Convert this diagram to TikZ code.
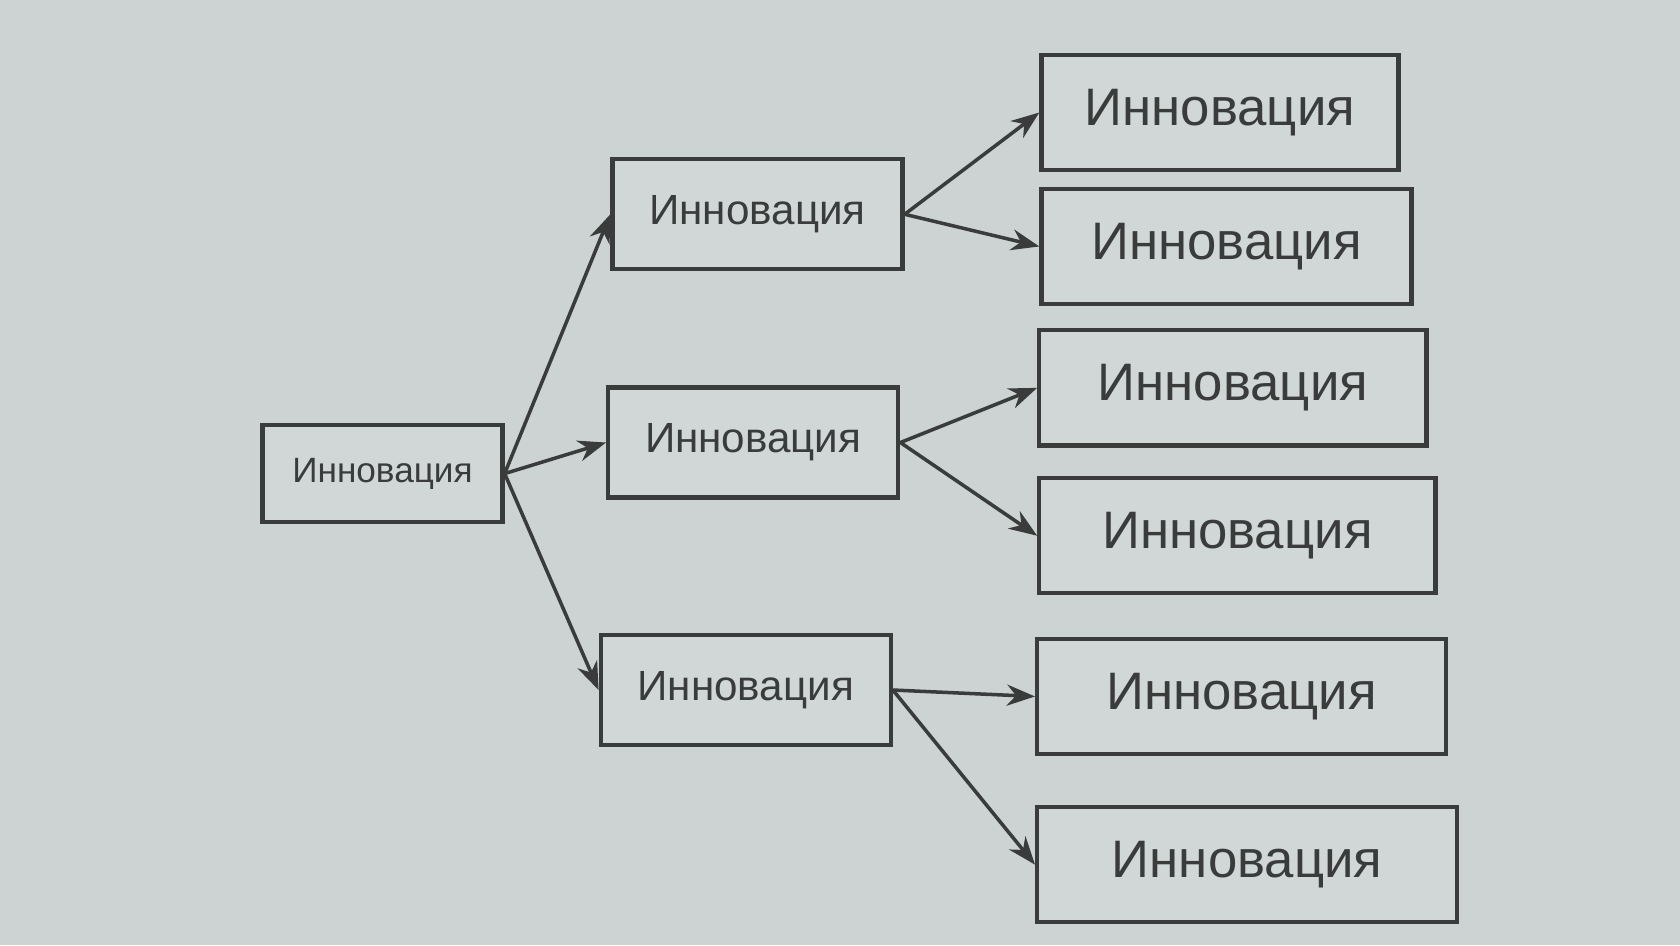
\documentclass[tikz,border=0pt]{standalone}
\usepackage{fontspec}
\setmainfont{Liberation Sans}
\usetikzlibrary{arrows.meta}
\definecolor{paper}{HTML}{CDD3D2}
\definecolor{ink}{HTML}{3A3C3C}
\tikzset{
  box/.style={draw=ink, line width=1.2pt, fill=paper!92!white, text=ink, inner sep=0pt},
  rootbox/.style={box, minimum width=2.4cm, minimum height=0.97cm, font=\fontsize{10}{12}\selectfont},
  midbox/.style={box, minimum width=2.9cm, minimum height=1.1cm, font=\fontsize{12}{14}\selectfont},
  leafbox/.style={box, anchor=west, minimum height=1.15cm, font=\fontsize{15}{18}\selectfont},
  link/.style={draw=ink, line width=1pt, -{Stealth[length=8pt,width=6pt]}}
}
\begin{document}
\begin{tikzpicture}[x=0.010714cm, y=-0.010714cm]
        \useasboundingbox[fill=paper] (0,0) rectangle (1568,882);

        \node[rootbox] at (357, 442)(r){Инновация};
        \node[midbox] at (707, 200)(m1){Инновация};
        \node[midbox] at (703, 413)(m2){Инновация};
        \node[midbox] at (696, 644)(m3){Инновация};
        \node[leafbox, minimum width=3.57cm] at (970, 105)(l1){Инновация};
        \node[leafbox, minimum width=3.70cm] at (970, 230)(l2){Инновация};
        \node[leafbox, minimum width=3.87cm] at (968, 362)(l3){Инновация};
        \node[leafbox, minimum width=3.96cm] at (968, 500)(l4){Инновация};
        \node[leafbox, minimum width=4.09cm] at (966, 650)(l5){Инновация};
        \node[leafbox, minimum width=4.20cm] at (966, 807)(l6){Инновация};

        \path
        (r.east)edge[link](m1.west)
        (r.east)edge[link](m2.west)
        (r.east)edge[link](m3.west)
        (m1.east)edge[link](l1.west)
        (m1.east)edge[link](l2.west)
        (m2.east)edge[link](l3.west)
        (m2.east)edge[link](l4.west)
        (m3.east)edge[link](l5.west)
        (m3.east)edge[link](l6.west)
        ;
    \end{tikzpicture}
\end{document}
